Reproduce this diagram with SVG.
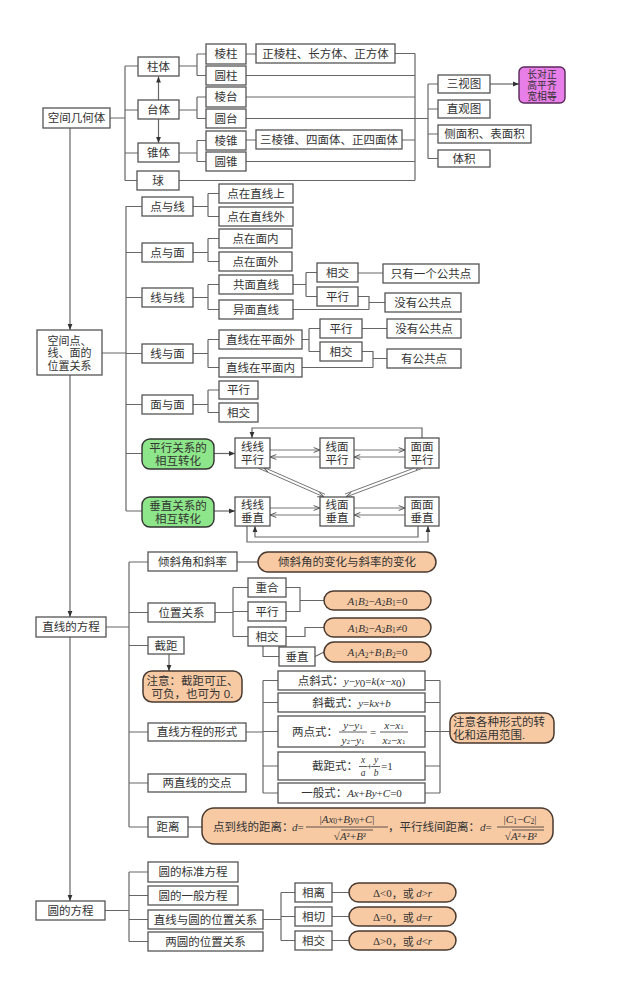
<svg xmlns="http://www.w3.org/2000/svg" width="643" height="997" viewBox="0 0 643 997">
<style>
.b{fill:#fff;stroke:#555;stroke-width:1.3}
.pe{fill:#f8caa4;stroke:#4a3a30;stroke-width:1.5}
.gr{fill:#8ee68a;stroke:#333;stroke-width:1.4}
.pu{fill:#e87ee8;stroke:#5a2a5a;stroke-width:1.4}
.t{font-family:"Liberation Sans","Noto Sans CJK SC",sans-serif;font-size:11.5px;fill:#333;text-anchor:middle;dominant-baseline:central}
.tl{font-family:"Liberation Sans","Noto Sans CJK SC",sans-serif;font-size:11.5px;fill:#333;dominant-baseline:central}
.m{font-family:"Liberation Serif","Noto Sans CJK SC",serif;font-size:11px;fill:#333;dominant-baseline:central}
.fr{font-family:"Liberation Serif",serif;font-size:9.5px;fill:#333;dominant-baseline:central;text-anchor:middle;font-style:italic}
.i{font-style:italic}
.c{fill:none;stroke:#666;stroke-width:1.2}
.c2{fill:none;stroke:#777;stroke-width:1}
</style>
<defs>
<marker id="ah" viewBox="0 0 10 10" refX="10" refY="5" markerWidth="6" markerHeight="6" orient="auto" markerUnits="userSpaceOnUse"><path d="M0,1 L10,5 L0,9 z" fill="#333"/></marker>
<marker id="ah2" viewBox="0 0 10 10" refX="10" refY="5" markerWidth="7" markerHeight="7" orient="auto" markerUnits="userSpaceOnUse"><path d="M1,1.5 L10,5 L1,8.5" fill="none" stroke="#555" stroke-width="1.4"/></marker>
</defs>

<g id="connectors">
<path class="c" d="M110,118 H125 M125,66 V180.5 M125,66 H138 M125,110 H138 M125,153 H138 M125,180.5 H137"/>
<path class="c" d="M158.5,100 V76.5" marker-end="url(#ah)"/>
<path class="c" d="M158.5,119 V143" marker-end="url(#ah)"/>
<path class="c" d="M179,66 H197 M197,54 V75.5 M197,54 H206 M197,75.5 H206"/>
<path class="c" d="M179,110 H197 M197,97 V118.5 M197,97 H206 M197,118.5 H206"/>
<path class="c" d="M179,153 H197 M197,140.5 V161.5 M197,140.5 H206 M197,161.5 H206"/>
<path class="c" d="M246,54 H256 M246,140 H256"/>
<path class="c" d="M395,53.5 H415 M246,75.5 H415 M246,97 H415 M246,118.5 H428 M402,140 H415 M246,161.5 H415 M179,180.5 H415 M415,53.5 V180.5"/>
<path class="c" d="M428,84 V158.5 M428,84 H438 M428,109 H438 M428,134 H438 M428,158.5 H438"/>
<path class="c" d="M490,84 H519" marker-end="url(#ah)"/>
<path class="c" d="M70,128 V330" marker-end="url(#ah)"/>
<path class="c" d="M102,353 H126 M126,206 V511 M126,206.5 H142 M126,252.5 H142 M126,297.5 H142 M126,353.5 H142 M126,404.5 H142 M126,453.5 H142 M126,511 H142"/>
<path class="c" d="M193,206.5 H208 M208,193.5 V216.5 M208,193.5 H219 M208,216.5 H219"/>
<path class="c" d="M193,252.5 H208 M208,238.5 V261.5 M208,238.5 H219 M208,261.5 H219"/>
<path class="c" d="M193,297.5 H208 M208,284.5 V309.5 M208,284.5 H219 M208,309.5 H219"/>
<path class="c" d="M193,353.5 H208 M208,339.5 V367.5 M208,339.5 H219 M208,367.5 H219"/>
<path class="c" d="M193,404.5 H208 M208,390 V412.5 M208,390 H219 M208,412.5 H219"/>
<path class="c" d="M293,284.5 H306 M306,272.5 V296.5 M306,272.5 H317 M306,296.5 H317 M358,273 H383"/>
<path class="c" d="M358,296.5 H369 V309.5 M293,309.5 H369 M369,302.5 H385"/>
<path class="c" d="M302,339.5 H309 M309,328.5 V351.5 M309,328.5 H320 M309,351.5 H320 M362,328.5 H387"/>
<path class="c" d="M362,351.5 H373 V367.5 M302,367.5 H373 M373,358.5 H387"/>
<path class="c" d="M214,453.5 H235" marker-end="url(#ah)"/>
<path class="c" d="M214,511 H235" marker-end="url(#ah)"/>
<path class="c2" d="M270,450 H320" marker-end="url(#ah2)"/>
<path class="c2" d="M320,457 H270" marker-end="url(#ah2)"/>
<path class="c2" d="M354,450 H405" marker-end="url(#ah2)"/>
<path class="c2" d="M405,457 H354" marker-end="url(#ah2)"/>
<path class="c" d="M422,438 V428 H252 V438" marker-end="url(#ah)"/>
<path class="c2" d="M258,468 L324,497" marker-end="url(#ah2)"/>
<path class="c2" d="M325,494.3 L263,467" marker-end="url(#ah2)"/>
<path class="c2" d="M423,468 L346,497" marker-end="url(#ah2)"/>
<path class="c2" d="M345,494 L421,465.5" marker-end="url(#ah2)"/>
<path class="c2" d="M270,508 H320" marker-end="url(#ah2)"/>
<path class="c2" d="M320,515 H270" marker-end="url(#ah2)"/>
<path class="c2" d="M354,508 H405" marker-end="url(#ah2)"/>
<path class="c2" d="M405,515 H354" marker-end="url(#ah2)"/>
<path class="c" d="M247,526 V542 H428 V526" marker-end="url(#ah)"/>
<path class="c" d="M418,526 V537 H255 V526" marker-end="url(#ah)"/>
<path class="c" d="M70,375 V617" marker-end="url(#ah)"/>
<path class="c" d="M106,627 H129 M129,562 V827 M129,562 H148 M129,612.5 H148 M129,645.5 H148 M129,732 H148 M129,783 H148 M129,827 H148"/>
<path class="c" d="M237,562 H258"/>
<path class="c" d="M215,612.5 H233 M233,587.5 V636.5 M233,587.5 H248 M233,611.5 H248 M233,636.5 H248"/>
<path class="c" d="M263,646 V656.5 H279"/>
<path class="c" d="M286,587.5 H300 V611.5 H286 M300,600.5 H324"/>
<path class="c" d="M286,636.5 H305 V627.5 H324"/>
<path class="c" d="M315,656.5 L324,652"/>
<path class="c" d="M169,654 V671" marker-end="url(#ah)"/>
<path class="c" d="M246,732 H263 M263,680.5 V793 M263,680.5 H278 M263,702.5 H278 M263,731.5 H278 M263,766 H278 M263,793 H278"/>
<path class="c" d="M425,680.5 H440 M425,702.5 H440 M425,731.5 H450 M425,766 H440 M425,793 H440 M440,680.5 V793"/>
<path class="c" d="M188,827 H202"/>
<path class="c" d="M70,637 V901" marker-end="url(#ah)"/>
<path class="c" d="M105,910.5 H129 M129,872 V941.5 M129,872 H148 M129,895.5 H148 M129,919.5 H148 M129,941.5 H148"/>
<path class="c" d="M263,919.5 H281 M281,892.5 V940.5 M281,892.5 H295 M281,916.5 H295 M281,940.5 H295"/>
<path class="c" d="M332,892.5 H349 M332,916.5 H349 M332,940.5 H349"/>
</g>

<g id="kjjht"><rect class="b" x="43" y="108" width="67" height="20"/><text class="t" x="76.5" y="118">空间几何体</text></g>
<g id="zhuti"><rect class="b" x="138" y="57" width="41" height="19"/><text class="t" x="158.5" y="66.5">柱体</text></g>
<g id="taiti"><rect class="b" x="138" y="100" width="41" height="19"/><text class="t" x="158.5" y="109.5">台体</text></g>
<g id="zhuiti"><rect class="b" x="138" y="143" width="41" height="19"/><text class="t" x="158.5" y="152.5">锥体</text></g>
<g id="qiu"><rect class="b" x="137" y="171" width="42" height="19"/><text class="t" x="158" y="180.5">球</text></g>
<g id="lengzhu"><rect class="b" x="206" y="44" width="40" height="20"/><text class="t" x="226" y="54">棱柱</text></g>
<g id="yuanzhu"><rect class="b" x="206" y="66" width="40" height="19"/><text class="t" x="226" y="75.5">圆柱</text></g>
<g id="lengtai"><rect class="b" x="206" y="87" width="40" height="20"/><text class="t" x="226" y="97">棱台</text></g>
<g id="yuantai"><rect class="b" x="206" y="109" width="40" height="19"/><text class="t" x="226" y="118.5">圆台</text></g>
<g id="lengzhui"><rect class="b" x="206" y="131" width="40" height="19"/><text class="t" x="226" y="140.5">棱锥</text></g>
<g id="yuanzhui"><rect class="b" x="206" y="152" width="40" height="19"/><text class="t" x="226" y="161.5">圆锥</text></g>
<g id="zlz"><rect class="b" x="256" y="44" width="139" height="19"/><text class="t" x="325.5" y="53.5">正棱柱、长方体、正方体</text></g>
<g id="slz"><rect class="b" x="256" y="130" width="146" height="19"/><text class="t" x="329" y="139.5">三棱锥、四面体、正四面体</text></g>
<g id="sst"><rect class="b" x="438" y="75" width="52" height="18"/><text class="t" x="464" y="84">三视图</text></g>
<g id="zgt"><rect class="b" x="438" y="100" width="52" height="18"/><text class="t" x="464" y="109">直观图</text></g>
<g id="cmj"><rect class="b" x="438" y="125" width="93" height="18"/><text class="t" x="484.5" y="134">侧面积、表面积</text></g>
<g id="tj"><rect class="b" x="438" y="150" width="52" height="17"/><text class="t" x="464" y="158.5">体积</text></g>
<g id="cdz"><rect class="pu" x="519" y="67" width="46" height="36" rx="5"/><text class="t" x="542" y="73.7" style="font-size:9.8px"><tspan x="542">长对正</tspan><tspan x="542" dy="11.3">高平齐</tspan><tspan x="542" dy="11.3">宽相等</tspan></text></g>

<g id="kjd"><rect class="b" x="37" y="330" width="65" height="45"/><text class="t" x="69.5" y="340.5" style="font-size:11px"><tspan x="69.5">空间点、</tspan><tspan x="69.5" dy="12.5">线、面的</tspan><tspan x="69.5" dy="12.5">位置关系</tspan></text></g>
<g id="dyx"><rect class="b" x="142" y="197" width="51" height="19"/><text class="t" x="167.5" y="206.5">点与线</text></g>
<g id="dym"><rect class="b" x="142" y="243" width="51" height="19"/><text class="t" x="167.5" y="252.5">点与面</text></g>
<g id="xyx"><rect class="b" x="142" y="288" width="51" height="19"/><text class="t" x="167.5" y="297.5">线与线</text></g>
<g id="xym"><rect class="b" x="142" y="344" width="51" height="19"/><text class="t" x="167.5" y="353.5">线与面</text></g>
<g id="mym"><rect class="b" x="142" y="395" width="51" height="19"/><text class="t" x="167.5" y="404.5">面与面</text></g>
<g id="dzzxs"><rect class="b" x="219" y="184" width="74" height="19"/><text class="t" x="256" y="193.5">点在直线上</text></g>
<g id="dzzxw"><rect class="b" x="219" y="207" width="74" height="19"/><text class="t" x="256" y="216.5">点在直线外</text></g>
<g id="dzmn"><rect class="b" x="219" y="229" width="73" height="19"/><text class="t" x="255.5" y="238.5">点在面内</text></g>
<g id="dzmw"><rect class="b" x="219" y="252" width="73" height="19"/><text class="t" x="255.5" y="261.5">点在面外</text></g>
<g id="gmzx"><rect class="b" x="219" y="275" width="74" height="19"/><text class="t" x="256" y="284.5">共面直线</text></g>
<g id="ymzx"><rect class="b" x="219" y="300" width="74" height="19"/><text class="t" x="256" y="309.5">异面直线</text></g>
<g id="zxzpmw"><rect class="b" x="219" y="330" width="83" height="19"/><text class="t" x="260.5" y="339.5">直线在平面外</text></g>
<g id="zxzpmn"><rect class="b" x="219" y="358" width="83" height="19"/><text class="t" x="260.5" y="367.5">直线在平面内</text></g>
<g id="mm_px"><rect class="b" x="219" y="381" width="39" height="18"/><text class="t" x="238.5" y="390">平行</text></g>
<g id="mm_xj"><rect class="b" x="219" y="403" width="39" height="19"/><text class="t" x="238.5" y="412.5">相交</text></g>
<g id="gm_xj"><rect class="b" x="317" y="263" width="41" height="19"/><text class="t" x="337.5" y="272.5">相交</text></g>
<g id="gm_px"><rect class="b" x="317" y="287" width="41" height="19"/><text class="t" x="337.5" y="296.5">平行</text></g>
<g id="zyygggd"><rect class="b" x="383" y="264" width="96" height="19"/><text class="t" x="431" y="273.5">只有一个公共点</text></g>
<g id="myggd1"><rect class="b" x="385" y="293" width="76" height="19"/><text class="t" x="423" y="302.5">没有公共点</text></g>
<g id="xm_px"><rect class="b" x="320" y="319" width="42" height="19"/><text class="t" x="341" y="328.5">平行</text></g>
<g id="xm_xj"><rect class="b" x="320" y="342" width="42" height="19"/><text class="t" x="341" y="351.5">相交</text></g>
<g id="myggd2"><rect class="b" x="387" y="319" width="74" height="19"/><text class="t" x="424" y="328.5">没有公共点</text></g>
<g id="yggd"><rect class="b" x="387" y="349" width="74" height="19"/><text class="t" x="424" y="358.5">有公共点</text></g>

<g id="pxzh"><rect class="gr" x="142" y="439" width="72" height="30" rx="8"/><text class="t" x="178" y="447.5"><tspan x="178">平行关系的</tspan><tspan x="178" dy="13">相互转化</tspan></text></g>
<g id="czzh"><rect class="gr" x="142" y="497" width="72" height="30" rx="8"/><text class="t" x="178" y="505.5"><tspan x="178">垂直关系的</tspan><tspan x="178" dy="13">相互转化</tspan></text></g>
<g id="xxpx"><rect class="b" x="235" y="438" width="35" height="30"/><text class="t" x="252.5" y="446.5"><tspan x="252.5">线线</tspan><tspan x="252.5" dy="13">平行</tspan></text></g>
<g id="xmpx"><rect class="b" x="320" y="438" width="34" height="30"/><text class="t" x="337" y="446.5"><tspan x="337">线面</tspan><tspan x="337" dy="13">平行</tspan></text></g>
<g id="mmpx"><rect class="b" x="405" y="438" width="34" height="30"/><text class="t" x="422" y="446.5"><tspan x="422">面面</tspan><tspan x="422" dy="13">平行</tspan></text></g>
<g id="xxcz"><rect class="b" x="235" y="497" width="35" height="29"/><text class="t" x="252.5" y="505"><tspan x="252.5">线线</tspan><tspan x="252.5" dy="13">垂直</tspan></text></g>
<g id="xmcz"><rect class="b" x="320" y="497" width="34" height="29"/><text class="t" x="337" y="505"><tspan x="337">线面</tspan><tspan x="337" dy="13">垂直</tspan></text></g>
<g id="mmcz"><rect class="b" x="405" y="497" width="34" height="29"/><text class="t" x="422" y="505"><tspan x="422">面面</tspan><tspan x="422" dy="13">垂直</tspan></text></g>

<g id="zxdfc"><rect class="b" x="36" y="617" width="70" height="20"/><text class="t" x="71" y="627">直线的方程</text></g>
<g id="qxj"><rect class="b" x="148" y="552" width="89" height="19"/><text class="t" x="192.5" y="561.5">倾斜角和斜率</text></g>
<g id="qxjbh"><rect class="pe" x="258" y="552" width="178" height="20" rx="10"/><text class="t" x="347" y="562">倾斜角的变化与斜率的变化</text></g>
<g id="wzgx"><rect class="b" x="148" y="603" width="67" height="19"/><text class="t" x="181.5" y="612.5">位置关系</text></g>
<g id="ch"><rect class="b" x="248" y="578" width="38" height="19"/><text class="t" x="267" y="587.5">重合</text></g>
<g id="px3"><rect class="b" x="248" y="602" width="38" height="19"/><text class="t" x="267" y="611.5">平行</text></g>
<g id="xj3"><rect class="b" x="248" y="627" width="38" height="19"/><text class="t" x="267" y="636.5">相交</text></g>
<g id="cz3"><rect class="b" x="279" y="647" width="36" height="19"/><text class="t" x="297" y="656.5">垂直</text></g>
<g id="f1"><rect class="pe" x="324" y="591" width="107" height="19" rx="9.5"/><text class="m" x="377.5" y="600.5" text-anchor="middle"><tspan class="i">A</tspan><tspan font-size="7.5" dy="2.5">1</tspan><tspan class="i" dy="-2.5">B</tspan><tspan font-size="7.5" dy="2.5">2</tspan><tspan dy="-2.5">−</tspan><tspan class="i">A</tspan><tspan font-size="7.5" dy="2.5">2</tspan><tspan class="i" dy="-2.5">B</tspan><tspan font-size="7.5" dy="2.5">1</tspan><tspan dy="-2.5">=0</tspan></text></g>
<g id="f2"><rect class="pe" x="324" y="618" width="107" height="19" rx="9.5"/><text class="m" x="377.5" y="627.5" text-anchor="middle"><tspan class="i">A</tspan><tspan font-size="7.5" dy="2.5">1</tspan><tspan class="i" dy="-2.5">B</tspan><tspan font-size="7.5" dy="2.5">2</tspan><tspan dy="-2.5">−</tspan><tspan class="i">A</tspan><tspan font-size="7.5" dy="2.5">2</tspan><tspan class="i" dy="-2.5">B</tspan><tspan font-size="7.5" dy="2.5">1</tspan><tspan dy="-2.5">≠0</tspan></text></g>
<g id="f3"><rect class="pe" x="324" y="642" width="107" height="20" rx="10"/><text class="m" x="377.5" y="652" text-anchor="middle"><tspan class="i">A</tspan><tspan font-size="7.5" dy="2.5">1</tspan><tspan class="i" dy="-2.5">A</tspan><tspan font-size="7.5" dy="2.5">2</tspan><tspan dy="-2.5">+</tspan><tspan class="i">B</tspan><tspan font-size="7.5" dy="2.5">1</tspan><tspan class="i" dy="-2.5">B</tspan><tspan font-size="7.5" dy="2.5">2</tspan><tspan dy="-2.5">=0</tspan></text></g>
<g id="jj"><rect class="b" x="148" y="637" width="36" height="17"/><text class="t" x="166" y="645.5">截距</text></g>
<g id="zy"><rect class="pe" x="143" y="671" width="99" height="31" rx="9"/><text class="t" x="192.5" y="680.5"><tspan x="192.5">注意：截距可正、</tspan><tspan x="192.5" dy="13">可负，也可为 0.</tspan></text></g>
<g id="xs"><rect class="b" x="148" y="723" width="98" height="18"/><text class="t" x="197" y="732">直线方程的形式</text></g>
<g id="dxs"><rect class="b" x="278" y="671" width="147" height="19"/><text class="tl" x="351.5" y="680.5" text-anchor="middle">点斜式：<tspan class="m i">y</tspan><tspan class="m">−</tspan><tspan class="m i">y</tspan><tspan class="m" font-size="7.5" dy="2.5">0</tspan><tspan class="m" dy="-2.5">=</tspan><tspan class="m i">k</tspan><tspan class="m">(</tspan><tspan class="m i">x</tspan><tspan class="m">−</tspan><tspan class="m i">x</tspan><tspan class="m" font-size="7.5" dy="2.5">0</tspan><tspan class="m" dy="-2.5">)</tspan></text></g>
<g id="xjs"><rect class="b" x="278" y="693" width="147" height="19"/><text class="tl" x="351.5" y="702.5" text-anchor="middle">斜截式：<tspan class="m i">y</tspan><tspan class="m">=</tspan><tspan class="m i">kx</tspan><tspan class="m">+</tspan><tspan class="m i">b</tspan></text></g>
<g id="lds"><rect class="b" x="278" y="716" width="147" height="31"/><text class="tl" x="292" y="731.5">两点式：</text>
<text class="m" x="353" y="724.5" text-anchor="middle" font-size="10"><tspan class="i">y</tspan>−<tspan class="i">y</tspan><tspan font-size="7" dy="2">1</tspan></text>
<text class="m" x="353" y="739.5" text-anchor="middle" font-size="10"><tspan class="i">y</tspan><tspan font-size="7" dy="2">2</tspan><tspan dy="-2">−</tspan><tspan class="i">y</tspan><tspan font-size="7" dy="2">1</tspan></text>
<text class="m" x="373" y="731.5" text-anchor="middle">=</text>
<text class="m" x="394" y="724.5" text-anchor="middle" font-size="10"><tspan class="i">x</tspan>−<tspan class="i">x</tspan><tspan font-size="7" dy="2">1</tspan></text>
<text class="m" x="394" y="739.5" text-anchor="middle" font-size="10"><tspan class="i">x</tspan><tspan font-size="7" dy="2">2</tspan><tspan dy="-2">−</tspan><tspan class="i">x</tspan><tspan font-size="7" dy="2">1</tspan></text>
<path d="M339,732 H367 M380,732 H408" stroke="#333" stroke-width="0.8"/></g>
<g id="jjs"><rect class="b" x="278" y="752" width="147" height="28"/><text class="tl" x="312" y="766">截距式：</text>
<text class="fr" x="363" y="760">x</text><text class="fr" x="363" y="773">a</text>
<text class="m" x="369.5" y="766" text-anchor="middle">+</text>
<text class="fr" x="376" y="760">y</text><text class="fr" x="376" y="773">b</text>
<text class="m" x="381" y="766">=1</text>
<path d="M359,766.5 H367 M372,766.5 H380" stroke="#333" stroke-width="0.8"/></g>
<g id="ybs"><rect class="b" x="278" y="783" width="147" height="20"/><text class="tl" x="351.5" y="793" text-anchor="middle">一般式：<tspan class="m i">Ax</tspan><tspan class="m">+</tspan><tspan class="m i">By</tspan><tspan class="m">+</tspan><tspan class="m i">C</tspan><tspan class="m">=0</tspan></text></g>
<g id="zygz"><rect class="pe" x="450" y="713" width="104" height="30" rx="9"/><text class="tl" x="453" y="721.5"><tspan x="453">注意各种形式的转</tspan><tspan x="453" dy="13">化和运用范围.</tspan></text></g>
<g id="jd"><rect class="b" x="148" y="774" width="98" height="18"/><text class="t" x="197" y="783">两直线的交点</text></g>
<g id="jl"><rect class="b" x="148" y="817" width="40" height="20"/><text class="t" x="168" y="827">距离</text></g>
<g id="jlgs"><rect class="pe" x="202" y="808" width="351" height="36" rx="12"/>
<text class="tl" x="213" y="827">点到线的距离：</text>
<text class="m" x="292" y="827"><tspan class="i">d</tspan>=</text>
<text class="m" x="347" y="818.5" text-anchor="middle">|<tspan class="i">Ax</tspan><tspan font-size="7.5" dy="2.5">0</tspan><tspan dy="-2.5">+</tspan><tspan class="i">By</tspan><tspan font-size="7.5" dy="2.5">0</tspan><tspan dy="-2.5">+</tspan><tspan class="i">C</tspan>|</text>
<text class="m" x="350" y="836" text-anchor="middle">√<tspan class="i">A</tspan>²+<tspan class="i">B</tspan>²</text>
<text class="tl" x="388" y="827">，平行线间距离：</text>
<text class="m" x="480" y="827"><tspan class="i">d</tspan>=</text>
<text class="m" x="520" y="818.5" text-anchor="middle">|<tspan class="i">C</tspan><tspan font-size="7.5" dy="2.5">1</tspan><tspan dy="-2.5">−</tspan><tspan class="i">C</tspan><tspan font-size="7.5" dy="2.5">2</tspan><tspan dy="-2.5">|</tspan></text>
<text class="m" x="521" y="836" text-anchor="middle">√<tspan class="i">A</tspan>²+<tspan class="i">B</tspan>²</text>
<path d="M306,827 H388 M497,827 H544 M341,830 H373 M512,830 H544" stroke="#333" stroke-width="0.8" fill="none"/></g>

<g id="ydfc"><rect class="b" x="36" y="901" width="69" height="19"/><text class="t" x="70.5" y="910.5">圆的方程</text></g>
<g id="bzfc"><rect class="b" x="148" y="862" width="90" height="20"/><text class="t" x="193" y="872">圆的标准方程</text></g>
<g id="ybfc"><rect class="b" x="148" y="886" width="90" height="19"/><text class="t" x="193" y="895.5">圆的一般方程</text></g>
<g id="zxyy"><rect class="b" x="148" y="910" width="115" height="19"/><text class="t" x="205.5" y="919.5">直线与圆的位置关系</text></g>
<g id="lyy"><rect class="b" x="148" y="932" width="115" height="19"/><text class="t" x="205.5" y="941.5">两圆的位置关系</text></g>
<g id="xl"><rect class="b" x="295" y="883" width="37" height="19"/><text class="t" x="313.5" y="892.5">相离</text></g>
<g id="xq"><rect class="b" x="295" y="907" width="37" height="19"/><text class="t" x="313.5" y="916.5">相切</text></g>
<g id="xj4"><rect class="b" x="295" y="931" width="37" height="19"/><text class="t" x="313.5" y="940.5">相交</text></g>
<g id="d1"><rect class="pe" x="349" y="883" width="107" height="19" rx="9.5"/><text class="m" x="402.5" y="892.5" text-anchor="middle">Δ&lt;0<tspan font-family="Noto Sans CJK SC">，或 </tspan><tspan class="i">d</tspan>&gt;<tspan class="i">r</tspan></text></g>
<g id="d2"><rect class="pe" x="349" y="907" width="107" height="19" rx="9.5"/><text class="m" x="402.5" y="916.5" text-anchor="middle">Δ=0<tspan font-family="Noto Sans CJK SC">，或 </tspan><tspan class="i">d</tspan>=<tspan class="i">r</tspan></text></g>
<g id="d3"><rect class="pe" x="349" y="931" width="107" height="19" rx="9.5"/><text class="m" x="402.5" y="940.5" text-anchor="middle">Δ&gt;0<tspan font-family="Noto Sans CJK SC">，或 </tspan><tspan class="i">d</tspan>&lt;<tspan class="i">r</tspan></text></g>
</svg>
